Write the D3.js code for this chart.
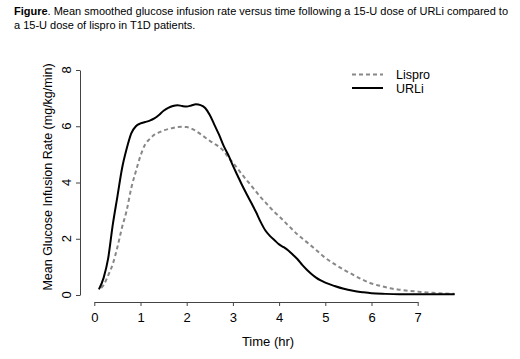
<!DOCTYPE html>
<html>
<head>
<meta charset="utf-8">
<script src="https://cdn.jsdelivr.net/npm/d3@7"></script>
<style>
body { margin: 0; background: #fff; }
svg text { font-family: Arial, "Liberation Sans", sans-serif; fill: #000; }
</style>
</head>
<body>
<div id="chart"></div>
<script>
//Mean smoothed GIR curves
let urli_time = [0.1, 0.2, 0.3, 0.4, 0.5, 0.6, 0.7, 0.8, 0.9, 1.0, 1.1, 1.2, 1.3, 1.4, 1.5, 1.6, 1.7, 1.8, 1.9, 2.0,
    2.1, 2.2, 2.3, 2.4, 2.5, 2.6, 2.7, 2.8, 2.9, 3.0, 3.1, 3.2, 3.3, 3.4, 3.5, 3.6, 3.7, 3.8, 3.9, 4.0,
    4.1, 4.2, 4.3, 4.4, 4.5, 4.6, 4.7, 4.8, 4.9, 5.0, 5.2, 5.4, 5.6, 5.8, 6.0, 6.3, 6.6, 7.0, 7.4, 7.8]
let urli_gir = [0.2, 0.6, 1.3, 2.5, 3.5, 4.5, 5.2, 5.75, 6.0, 6.1, 6.15, 6.2, 6.28, 6.4, 6.55, 6.65, 6.72, 6.75, 6.72, 6.7,
    6.74, 6.78, 6.75, 6.65, 6.4, 6.05, 5.7, 5.3, 4.98, 4.6, 4.25, 3.9, 3.58, 3.27, 2.95, 2.6, 2.3, 2.1, 1.95, 1.8,
    1.7, 1.58, 1.43, 1.27, 1.07, 0.9, 0.75, 0.62, 0.52, 0.44, 0.32, 0.22, 0.15, 0.1, 0.06, 0.04, 0.03, 0.03, 0.03, 0.03]
let lispro_time = [0.15, 0.2, 0.3, 0.4, 0.5, 0.6, 0.7, 0.8, 0.9, 1.0, 1.1, 1.2, 1.3, 1.4, 1.5, 1.6, 1.7, 1.8, 1.9, 2.0,
    2.1, 2.2, 2.3, 2.4, 2.5, 2.6, 2.7, 2.8, 2.9, 3.0, 3.1, 3.2, 3.3, 3.4, 3.5, 3.6, 3.7, 3.8, 3.9, 4.0,
    4.2, 4.4, 4.6, 4.8, 5.0, 5.2, 5.4, 5.6, 5.8, 6.0, 6.2, 6.4, 6.6, 6.8, 7.0, 7.2, 7.4, 7.6, 7.8]
let lispro_gir = [0.25, 0.35, 0.7, 1.1, 1.7, 2.4, 3.0, 3.8, 4.4, 4.95, 5.35, 5.55, 5.7, 5.78, 5.85, 5.9, 5.94, 5.97, 5.98, 5.97,
    5.92, 5.83, 5.72, 5.6, 5.48, 5.38, 5.27, 5.12, 4.9, 4.7, 4.5, 4.28, 4.08, 3.88, 3.68, 3.48, 3.3, 3.12, 2.95, 2.8,
    2.47, 2.15, 1.88, 1.6, 1.32, 1.1, 0.9, 0.72, 0.55, 0.41, 0.32, 0.24, 0.19, 0.15, 0.12, 0.09, 0.07, 0.05, 0.04]
let x_ticks = [0, 1, 2, 3, 4, 5, 6, 7]
let y_ticks = [0, 2, 4, 6, 8]
let series_names = ['Lispro', 'URLi']

let width = 520, height = 359
let font_size = '13px'
let svg = d3.select('#chart').append('svg').attr('width', width).attr('height', height)

//Caption above the plot
let cap = svg.append('text').attr('x', 14).attr('y', 15).style('font-size', '11px')
    .attr('textLength', 494).attr('lengthAdjust', 'spacing')
cap.append('tspan').style('font-weight', 'bold').text('Figure')
cap.append('tspan').text('. Mean smoothed glucose infusion rate versus time following a 15-U dose of URLi compared to')
svg.append('text').attr('x', 14).attr('y', 28.5).style('font-size', '11px')
    .text('a 15-U dose of lispro in T1D patients.')

let x = d3.scaleLinear().domain([0, 7]).range([94.3, 417.7])
let y = d3.scaleLinear().domain([0, 8]).range([295, 70])

//Axes, R style (detached, no outer ticks)
let xAxis = svg.append('g').attr('transform', 'translate(0,302)')
    .call(d3.axisBottom(x).tickValues(x_ticks).tickFormat(d3.format('d')).tickSize(4).tickSizeOuter(0).tickPadding(7))
let yAxis = svg.append('g').attr('transform', 'translate(80,0)')
    .call(d3.axisLeft(y).tickValues(y_ticks).tickFormat('').tickSize(4).tickSizeOuter(0))
svg.selectAll('.domain, .tick line').attr('stroke', '#444')
xAxis.selectAll('text').attr('font-size', null).attr('font-family', null).style('font-size', font_size)
//Rotated y tick labels (R las=0)
svg.selectAll('.ylab-tick').data(y_ticks).enter().append('text')
    .attr('class', 'ylab-tick')
    .attr('transform', d => 'translate(71,' + y(d) + ') rotate(-90)')
    .attr('text-anchor', 'middle')
    .style('font-size', font_size)
    .text(d => d)

//Axis labels
svg.append('text').attr('x', 268).attr('y', 346).attr('text-anchor', 'middle')
    .style('font-size', font_size).text('Time (hr)')
svg.append('text').attr('transform', 'translate(52,177) rotate(-90)').attr('text-anchor', 'middle')
    .style('font-size', '12.5px').text('Mean Glucose Infusion Rate (mg/kg/min)')

//Curves
let line = d3.line().x(d => x(d[0])).y(d => y(d[1])).curve(d3.curveMonotoneX)
let lispro = lispro_time.map((t, i) => [t, lispro_gir[i]])
let urli = urli_time.map((t, i) => [t, urli_gir[i]])
svg.append('path').datum(lispro).attr('d', line).attr('fill', 'none')
    .attr('stroke', '#888').attr('stroke-width', 2).attr('stroke-dasharray', '4,3')
svg.append('path').datum(urli).attr('d', line).attr('fill', 'none')
    .attr('stroke', '#000').attr('stroke-width', 2)

//Legend
let legend_styles = [{stroke: '#888', dash: '4,3'}, {stroke: '#000', dash: null}]
series_names.forEach((name, i) => {
    let ly = 74.5 + i * 13.5
    svg.append('line').attr('x1', 352).attr('x2', 383).attr('y1', ly).attr('y2', ly)
        .attr('stroke', legend_styles[i].stroke).attr('stroke-width', 2)
        .attr('stroke-dasharray', legend_styles[i].dash)
    svg.append('text').attr('x', 396).attr('y', ly + 4.5).style('font-size', '12.5px').text(name)
})
</script>
</body>
</html>
